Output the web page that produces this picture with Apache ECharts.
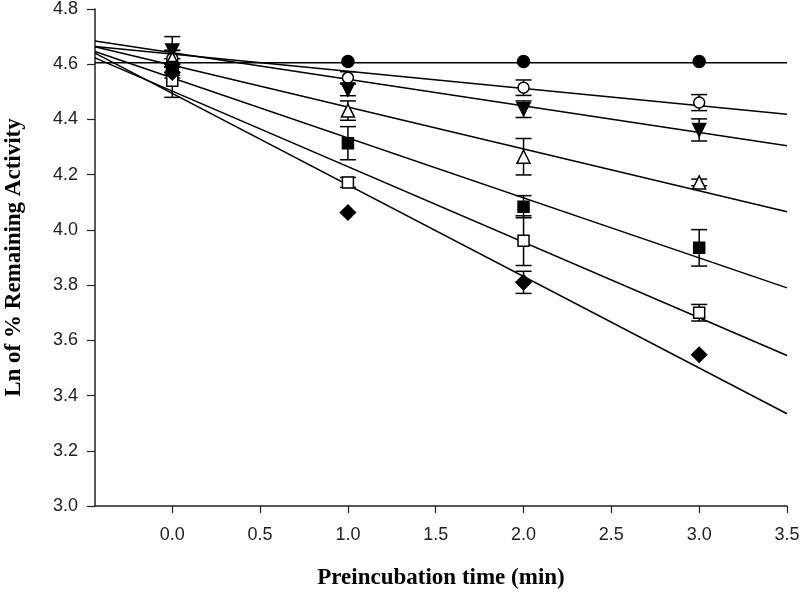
<!DOCTYPE html>
<html>
<head>
<meta charset="utf-8">
<script src="https://cdn.jsdelivr.net/npm/echarts@6/dist/echarts.min.js"></script>
<style>
html,body{margin:0;padding:0;background:#fff;}
#chart{width:800px;height:595px;}
</style>
</head>
<body>
<div id="chart"></div>
<script>
// ---- data ----
var times = [0, 1, 2, 3];
var xTickValues = [0, 0.5, 1, 1.5, 2, 2.5, 3, 3.5];

var filledCircle  = [4.58, 4.610, 4.610, 4.610];
var openCircle    = [4.62, 4.551, 4.515, 4.461];
var filledTriDown = [4.65, 4.508, 4.437, 4.362];
var openTriUp     = [4.62, 4.432, 4.265, 4.172];
var filledSquare  = [4.59, 4.314, 4.084, 3.935];
var openSquare    = [4.54, 4.172, 3.961, 3.700];
var filledDiamond = [4.57, 4.063, 3.810, 3.548];

var errFilledCircle  = [0.01, 0, 0, 0];
var errOpenCircle    = [0.03, 0.022, 0.028, 0.029];
var errFilledTriDown = [0.05, 0.022, 0.030, 0.040];
var errOpenTriUp     = [0.03, 0.035, 0.066, 0.012];
var errFilledSquare  = [0.03, 0.060, 0.040, 0.066];
var errOpenSquare    = [0.06, 0.018, 0.090, 0.030];
var errFilledDiamond = [0.02, 0, 0.040, 0];

// regression lines: value at left edge (t = -0.44) and right edge (t = 3.5)
var fitX = [-0.44, 3.5];
var fitStart = [4.605, 4.664, 4.684, 4.663, 4.646, 4.623, 4.640];
var fitEnd   = [4.605, 4.419, 4.305, 4.066, 3.790, 3.545, 3.334];

// ---- build ----
var groups = [
  {vals: filledCircle,  err: errFilledCircle,  symbol: 'circle',   rotate: 0,   fill: '#000', size: 12},
  {vals: openCircle,    err: errOpenCircle,    symbol: 'circle',   rotate: 0,   fill: '#fff', size: 11},
  {vals: filledTriDown, err: errFilledTriDown, symbol: 'triangle', rotate: 180, fill: '#000', size: 13},
  {vals: openTriUp,     err: errOpenTriUp,     symbol: 'triangle', rotate: 0,   fill: '#fff', size: 13},
  {vals: filledSquare,  err: errFilledSquare,  symbol: 'rect',     rotate: 0,   fill: '#000', size: 11},
  {vals: openSquare,    err: errOpenSquare,    symbol: 'rect',     rotate: 0,   fill: '#fff', size: 11},
  {vals: filledDiamond, err: errFilledDiamond, symbol: 'diamond',  rotate: 0,   fill: '#000', size: 15}
];

var series = [];
groups.forEach(function (g, i) {
  series.push({
    type: 'line',
    data: [[fitX[0], fitStart[i]], [fitX[1], fitEnd[i]]],
    showSymbol: false,
    symbol: 'none',
    lineStyle: {color: '#000', width: 1.5},
    silent: true,
    z: 1
  });
});
groups.forEach(function (g) {
  var errData = [];
  times.forEach(function (t, k) {
    if (g.err[k] > 0) errData.push([t, g.vals[k] - g.err[k], g.vals[k] + g.err[k]]);
  });
  series.push({
    type: 'custom',
    data: errData,
    z: 2,
    silent: true,
    renderItem: function (params, api) {
      var lo = api.coord([api.value(0), api.value(1)]);
      var hi = api.coord([api.value(0), api.value(2)]);
      var hw = 8;
      var st = {stroke: '#000', lineWidth: 1.5};
      return {
        type: 'group',
        children: [
          {type: 'line', shape: {x1: lo[0], y1: lo[1], x2: hi[0], y2: hi[1]}, style: st},
          {type: 'line', shape: {x1: lo[0] - hw, y1: lo[1], x2: lo[0] + hw, y2: lo[1]}, style: st},
          {type: 'line', shape: {x1: hi[0] - hw, y1: hi[1], x2: hi[0] + hw, y2: hi[1]}, style: st}
        ]
      };
    }
  });
});
groups.forEach(function (g) {
  series.push({
    type: 'scatter',
    data: times.map(function (t, k) { return [t, g.vals[k]]; }),
    symbol: g.symbol,
    symbolRotate: g.rotate,
    symbolSize: g.size,
    itemStyle: {color: g.fill, borderColor: '#000', borderWidth: 1.5, opacity: 1},
    z: 3
  });
});

var chart = echarts.init(document.getElementById('chart'), null, {renderer: 'canvas'});
chart.setOption({
  animation: false,
  backgroundColor: '#fff',
  grid: {left: 95, right: 13, top: 9, bottom: 89, containLabel: false, outerBoundsMode: 'none'},
  xAxis: {
    type: 'value',
    min: -0.44,
    max: 3.5,
    name: 'Preincubation time (min)',
    nameLocation: 'middle',
    nameGap: 61,
    nameTextStyle: {fontFamily: 'Liberation Serif', fontWeight: 'bold', fontSize: 23, color: '#000'},
    axisLine: {show: true, onZero: false, lineStyle: {color: '#222', width: 1.5}},
    axisTick: {show: true, inside: false, length: 7, customValues: xTickValues, lineStyle: {color: '#222', width: 1.2}},
    axisLabel: {
      customValues: xTickValues,
      margin: 20,
      fontFamily: 'Liberation Sans', fontSize: 18, color: '#222',
      formatter: function (v) { return v.toFixed(1); }
    },
    splitLine: {show: false}
  },
  yAxis: {
    type: 'value',
    min: 3.0,
    max: 4.8,
    interval: 0.2,
    name: 'Ln of % Remaining Activity',
    nameLocation: 'middle',
    nameRotate: 90,
    nameGap: 69,
    nameTextStyle: {fontFamily: 'Liberation Serif', fontWeight: 'bold', fontSize: 23, color: '#000'},
    axisLine: {show: true, onZero: false, lineStyle: {color: '#222', width: 1.5}},
    axisTick: {show: true, inside: false, length: 8, lineStyle: {color: '#222', width: 1.2}},
    axisLabel: {
      margin: 17,
      fontFamily: 'Liberation Sans', fontSize: 18, color: '#222',
      formatter: function (v) { return v.toFixed(1); }
    },
    splitLine: {show: false}
  },
  series: series
});
</script>
</body>
</html>
